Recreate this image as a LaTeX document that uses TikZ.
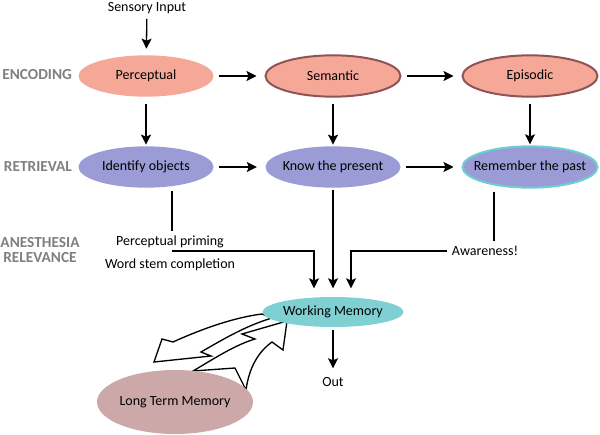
\documentclass[tikz,border=0pt]{standalone}
\usepackage{fontspec}
\setmainfont{Carlito}
\usetikzlibrary{shapes.geometric,arrows.meta}

\definecolor{salmon}{HTML}{F5A897}
\definecolor{rimbrown}{HTML}{8E5454}
\definecolor{lavender}{HTML}{9B9BD5}
\definecolor{wmteal}{HTML}{7FD0D3}
\definecolor{rimteal}{HTML}{6ECFD0}
\definecolor{rose}{HTML}{CDA8A8}
\definecolor{rowgray}{HTML}{808080}

\tikzset{
  stage/.style={ellipse, inner xsep=-12pt, inner ysep=0pt,
    minimum width=101.25pt, minimum height=31pt},
  enc/.style={stage, fill=salmon},
  ret/.style={stage, fill=lavender},
  rowlabel/.style={text=rowgray, font=\fontsize{11.5}{13}\selectfont\bfseries},
  link/.style={-{Stealth[length=7.5pt,width=7.5pt,inset=1.5pt]}},
  hlink/.style={link, shorten <=3.75pt, shorten >=6pt},
  vlink/.style={link, shorten <=5pt, shorten >=0.75pt},
  hollow/.style={draw, fill=white, line join=miter},
}

\begin{document}
\begin{tikzpicture}[x=0.75pt, y=-0.75pt, line width=1pt,
    font=\fontsize{10.5}{12.6}\selectfont]
  \useasboundingbox (0,0) rectangle (600,435);

  \node[rowlabel, anchor=east] (encoding) at (77,75) {ENCODING};
  \node[rowlabel, anchor=east] (retrieval) at (77,167) {RETRIEVAL};
  \node[rowlabel, align=center] (relevance) at (40,250) {ANESTHESIA\\[-1.5pt]RELEVANCE};

  \node (sensory) at (147,8) {Sensory Input};
  \node[enc] (perc) at (146,76) {Perceptual};
  \node[enc, draw=rimbrown, line width=1.5pt] (sem) at (333,76) {Semantic};
  \node[enc, draw=rimbrown, line width=1.5pt] (epi) at (530,76) {Episodic};
  \node[ret] (ident) at (146,167) {Identify objects};
  \node[ret] (know) at (333,167) {Know the present};
  \node[ret, draw=rimteal, line width=1.5pt] (remem) at (530,167) {Remember the past};

  \draw[link, shorten >=4.5pt] (sensory) -- (perc);
  \draw[hlink] (perc) -- (sem);
  \draw[hlink] (sem) -- (epi);
  \draw[hlink] (ident) -- (know);
  \draw[hlink] (know) -- (remem);
  \draw[vlink] (perc) -- (ident);
  \draw[vlink] (sem) -- (know);
  \draw[vlink] (epi) -- (remem);

  \node (priming) at (170,242) {Perceptual priming};
  \node (wordstem) at (170,265) {Word stem completion};
  \node (aware) at (485,251) {Awareness!};
  \coordinate (primebend) at (172,251);

  \draw[hollow] (262,314) .. controls (230,318) and (195,332) .. (173,342)
    -- (162,339) -- (154,362) -- (211,356) -- (201,352)
    .. controls (222,340) and (245,326) .. (272,318) -- cycle;
  \draw[hollow] (193,371) .. controls (215,358) and (235,345) .. (255,339)
    -- (242,334) -- (287,321) -- (283,350) -- (272,342)
    .. controls (258,352) and (249,368) .. (246,390) -- (235,368) -- cycle;

  \node[stage, fill=wmteal, minimum width=105.75pt, minimum height=22.5pt] (wm) at (333,312) {Working Memory};
  \node (out) at (333,382) {Out};
  \node[stage, fill=rose, minimum width=117pt, minimum height=48pt] (ltm) at (175,402) {Long Term Memory};

  \draw ([xshift=19.5pt,yshift=-2.25pt]ident.south) -- ++(0,40);
  \draw[link, shorten >=6pt] (primebend) -| ([xshift=-14.25pt]wm.north);
  \draw[link, shorten <=1.5pt, shorten >=6pt] (know) -- (wm);
  \draw ([xshift=-27pt,yshift=-2.25pt]remem.south) -- ++(0,49);
  \draw[link, shorten >=6pt] (aware.west) -| ([xshift=13.5pt]wm.north);
  \draw[link, shorten <=1.5pt, shorten >=3pt] (wm) -- (out);
\end{tikzpicture}
\end{document}
